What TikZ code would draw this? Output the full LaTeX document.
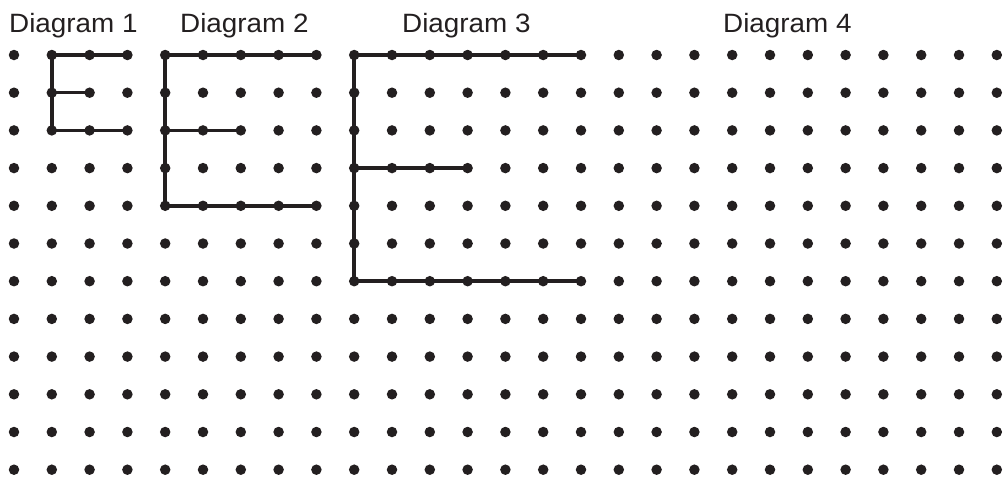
\documentclass[tikz,border=0pt]{standalone}
\usepackage{fontspec}
\setmainfont[FakeStretch=1.05]{Liberation Sans}
\definecolor{ink}{HTML}{231F20}

\begin{document}
\begin{tikzpicture}[x=1pt,y=-1pt,
  dot/.style={circle, fill=ink, inner sep=0pt, minimum size=10.5pt},
  seg/.style={draw=ink, line width=3.5pt},
  title/.style={anchor=base west, inner sep=0pt, text=ink, font=\fontsize{26.5}{30}\selectfont}]
\useasboundingbox (0,0) rectangle (1003,479);

\foreach \i in {0,...,26}
  \foreach \j in {0,...,11}
    \node[dot] (\i-\j) at ({14+37.8*\i},{55+37.7*\j}) {};

\node[title] (t1) at (9,32.3) {Diagram 1};
\node[title] (t2) at (180,32.3) {Diagram 2};
\node[title] (t3) at (402,32.3) {Diagram 3};
\node[title] (t4) at (723,32.3) {Diagram 4};

% diagram 1
\path[seg] (3-0.center) -- (1-0.center) -- (1-2.center) -- (3-2.center);
\path[seg] (1-1.center) -- (2-1.center);

% diagram 2
\path[seg] (8-0.center) -- (4-0.center) -- (4-4.center) -- (8-4.center);
\path[seg] (4-2.center) -- (6-2.center);

% diagram 3
\path[seg] (15-0.center) -- (9-0.center) -- (9-6.center) -- (15-6.center);
\path[seg] (9-3.center) -- (12-3.center);
\end{tikzpicture}
\end{document}
